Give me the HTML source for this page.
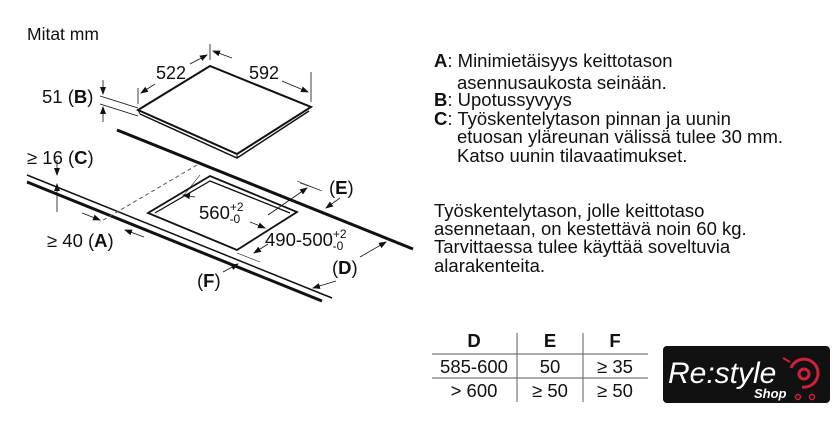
<!DOCTYPE html>
<html><head><meta charset="utf-8"><style>
body{margin:0;background:#fff;width:840px;height:440px;overflow:hidden}
svg text{font-family:"Liberation Sans",Arial,sans-serif;fill:#111}
</style></head><body>
<svg width="840" height="440" viewBox="0 0 840 440" xmlns="http://www.w3.org/2000/svg">
<defs><marker id="a" markerWidth="8" markerHeight="8" refX="7" refY="4" orient="auto" markerUnits="userSpaceOnUse"><path d="M0,1 L8,4 L0,7 z" fill="#111"/></marker></defs>
<text x="27" y="40" font-size="17.5">Mitat mm</text>
<!-- hob -->
<polygon points="138,110 210,66 311,107 237,154" fill="#fff" stroke="#111" stroke-width="2"/>
<polyline points="140,114 237,158 309,111" fill="none" stroke="#111" stroke-width="1.5"/>
<line x1="138" y1="110" x2="140" y2="114" stroke="#111"/><line x1="237" y1="154" x2="237" y2="158" stroke="#111"/>
<line x1="138" y1="104" x2="138" y2="88" stroke="#111" stroke-width="0.8"/>
<line x1="210" y1="60" x2="210" y2="44" stroke="#111" stroke-width="0.8"/>
<line x1="311" y1="72" x2="311" y2="102" stroke="#111" stroke-width="0.8"/>
<line x1="190" y1="64" x2="207" y2="55" stroke="#111" stroke-width="0.8" marker-end="url(#a)"/>
<line x1="155" y1="84" x2="141" y2="93" stroke="#111" stroke-width="0.8" marker-end="url(#a)"/>
<line x1="232" y1="58" x2="213" y2="51" stroke="#111" stroke-width="0.8" marker-end="url(#a)"/>
<line x1="282" y1="81" x2="308" y2="92" stroke="#111" stroke-width="0.8" marker-end="url(#a)"/>
<text x="171" y="79" font-size="18" text-anchor="middle">522</text>
<text x="264" y="79" font-size="18" text-anchor="middle">592</text>
<line x1="100" y1="96" x2="138" y2="108" stroke="#111" stroke-width="0.8"/>
<line x1="100" y1="104" x2="138" y2="116" stroke="#111" stroke-width="0.8"/>
<line x1="103" y1="80" x2="103" y2="94" stroke="#111" stroke-width="0.8" marker-end="url(#a)"/>
<line x1="103" y1="122" x2="103" y2="107" stroke="#111" stroke-width="0.8" marker-end="url(#a)"/>
<text x="42" y="103" font-size="18.5">51 (<tspan font-weight="bold">B</tspan>)</text>
<!-- countertop -->
<line x1="117" y1="130" x2="413" y2="249" stroke="#111" stroke-width="3"/>
<line x1="27" y1="175" x2="332" y2="298" stroke="#111" stroke-width="1.5"/>
<line x1="27" y1="182" x2="322" y2="301" stroke="#111" stroke-width="3"/>
<line x1="197" y1="165" x2="100" y2="222" stroke="#555" stroke-width="1" stroke-dasharray="4,3"/>
<polygon points="210,176 148,213 237,250 297,212" fill="#fff" stroke="#111" stroke-width="1.8"/>
<polyline points="155,213 210,181 290,213" fill="none" stroke="#111" stroke-width="1.3"/>
<text x="27" y="164" font-size="18.5">≥ 16 (<tspan font-weight="bold">C</tspan>)</text>
<line x1="57" y1="160" x2="57" y2="175" stroke="#111" stroke-width="0.8" marker-end="url(#a)"/>
<line x1="57" y1="212" x2="57" y2="184" stroke="#111" stroke-width="0.8" marker-end="url(#a)"/>
<line x1="82" y1="213" x2="100" y2="220" stroke="#111" stroke-width="0.8" marker-end="url(#a)"/>
<line x1="144" y1="237" x2="125" y2="230" stroke="#111" stroke-width="0.8" marker-end="url(#a)"/>
<text x="47" y="247" font-size="18.5">≥ 40 (<tspan font-weight="bold">A</tspan>)</text>
<line x1="200" y1="175" x2="184" y2="195" stroke="#111" stroke-width="0.6"/>
<line x1="195" y1="197" x2="183" y2="195" stroke="#111" stroke-width="0.8" marker-end="url(#a)"/>
<line x1="250" y1="222" x2="265" y2="228" stroke="#111" stroke-width="0.8" marker-end="url(#a)"/>
<text x="199" y="219" font-size="18.5">560<tspan font-size="12" dy="-8">+2</tspan><tspan font-size="12" dx="-14" dy="12">-0</tspan></text>
<line x1="300" y1="183" x2="320" y2="190" stroke="#111" stroke-width="0.6"/>
<line x1="297" y1="181" x2="322" y2="191" stroke="#111" stroke-width="0.6"/>
<line x1="237" y1="253" x2="260" y2="262" stroke="#111" stroke-width="0.6"/>
<line x1="268" y1="215" x2="307" y2="188" stroke="#111" stroke-width="0.8" marker-end="url(#a)"/>
<line x1="268" y1="244" x2="254" y2="253" stroke="#111" stroke-width="0.8" marker-end="url(#a)"/>
<text x="265" y="246" font-size="18.5">490-500<tspan font-size="12" dy="-8">+2</tspan><tspan font-size="12" dx="-14" dy="12">-0</tspan></text>
<text x="329" y="194" font-size="18.5">(<tspan font-weight="bold">E</tspan>)</text>
<line x1="340" y1="198" x2="326" y2="208" stroke="#111" stroke-width="0.8" marker-end="url(#a)"/>
<line x1="360" y1="257" x2="386" y2="242" stroke="#111" stroke-width="0.8" marker-end="url(#a)"/>
<line x1="336" y1="281" x2="313" y2="288" stroke="#111" stroke-width="0.8" marker-end="url(#a)"/>
<text x="332" y="274" font-size="18.5">(<tspan font-weight="bold">D</tspan>)</text>
<text x="197" y="287" font-size="18.5">(<tspan font-weight="bold">F</tspan>)</text>
<line x1="223" y1="272" x2="238" y2="264" stroke="#111" stroke-width="0.8" marker-end="url(#a)"/>
<g font-size="18.5">
<text x="434" y="67"><tspan font-weight="bold">A</tspan>: Minimietäisyys keittotason</text>
<text x="457" y="89">asennusaukosta seinään.</text>
<text x="434" y="106"><tspan font-weight="bold">B</tspan>: Upotussyvyys</text>
<text x="434" y="125"><tspan font-weight="bold">C</tspan>: Työskentelytason pinnan ja uunin</text>
<text x="457" y="143">etuosan yläreunan välissä tulee 30 mm.</text>
<text x="457" y="162">Katso uunin tilavaatimukset.</text>
<text x="434" y="217">Työskentelytason, jolle keittotaso</text>
<text x="434" y="235">asennetaan, on kestettävä noin 60 kg.</text>
<text x="434" y="253">Tarvittaessa tulee käyttää soveltuvia</text>
<text x="434" y="272">alarakenteita.</text>
</g>
<g font-size="18.5" text-anchor="middle">
<text x="474" y="347" font-weight="bold">D</text>
<text x="550" y="347" font-weight="bold">E</text>
<text x="615" y="347" font-weight="bold">F</text>
<text x="474" y="373">585-600</text><text x="550" y="373">50</text><text x="615" y="373">≥ 35</text>
<text x="474" y="397">&gt; 600</text><text x="550" y="397">≥ 50</text><text x="615" y="397">≥ 50</text>
</g>
<line x1="432" y1="354" x2="648" y2="354" stroke="#777" stroke-width="1.2"/>
<line x1="432" y1="378" x2="648" y2="378" stroke="#777" stroke-width="1.2"/>
<line x1="517" y1="333" x2="517" y2="402" stroke="#777" stroke-width="1.2"/>
<line x1="583" y1="333" x2="583" y2="402" stroke="#777" stroke-width="1.2"/>
<rect x="663" y="346" width="167" height="57" rx="4" fill="#111"/>
<text x="668" y="383" font-size="30" font-style="italic" style="fill:#fff">Re:style</text>
<text x="754" y="398" font-size="13" font-weight="bold" font-style="italic" style="fill:#fff">Shop</text>
<path d="M791,368 A14,14 0 1 1 802,387" fill="none" stroke="#d0203a" stroke-width="3"/>
<circle cx="804" cy="374" r="5" fill="none" stroke="#d0203a" stroke-width="3"/>
<path d="M783,358 L790,362" stroke="#d0203a" stroke-width="2"/>
<circle cx="798" cy="397" r="2.5" fill="none" stroke="#d0203a" stroke-width="1.5"/>
<circle cx="812" cy="397" r="2.5" fill="none" stroke="#d0203a" stroke-width="1.5"/>
</svg>
</body></html>
